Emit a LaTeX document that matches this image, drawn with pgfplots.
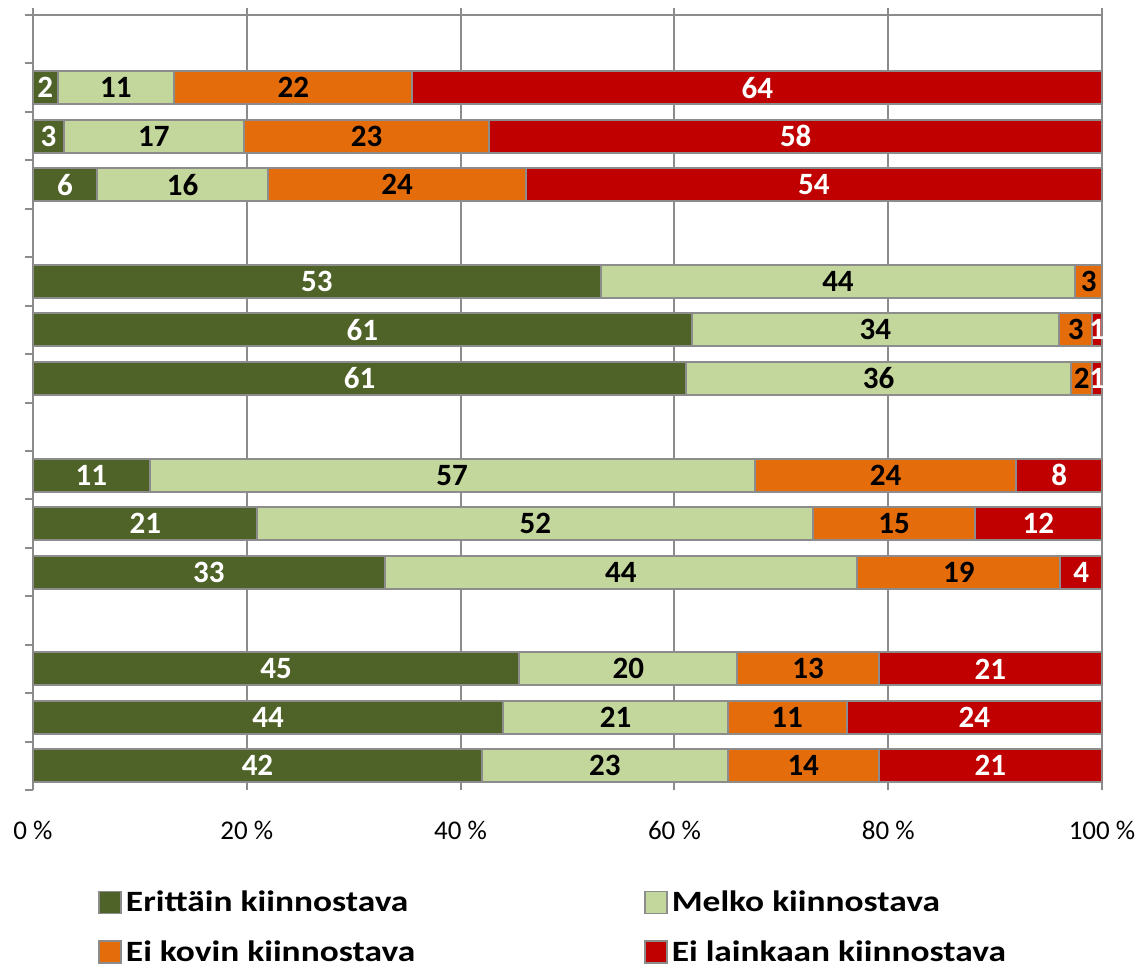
\documentclass[border=0pt]{standalone}
\usepackage{pgfplots}
\pgfplotsset{compat=1.18}
\usepackage{pgfplotstable}
\usepackage{fontspec}
\setmainfont{Carlito}
\newfontfamily\legfont{Carlito Bold}[FakeStretch=1.2]
\newfontfamily\boldc{Carlito Bold}
\definecolor{dg}{HTML}{4F6228}
\definecolor{lg}{HTML}{C3D69B}
\definecolor{og}{HTML}{E46C0A}
\definecolor{rd}{HTML}{C00000}
\definecolor{bd}{HTML}{8C8C8C}
\pgfplotstableread{
y a b c d la lb lc ld
2 2.3 10.9 22.3 64.5 2 11 22 64
3 2.9 16.8 23.0 57.3 3 17 23 58
4 6.0 16.0 24.1 53.9 6 16 24 54
6 53.1 44.4 2.5 0 53 44 3 0
7 61.6 34.4 3.1 0.9 61 34 3 1
8 61.1 36.0 2.0 0.9 61 36 2 1
10 10.9 56.6 24.5 8.0 11 57 24 8
11 21.0 52.0 15.1 11.9 21 52 15 12
12 32.9 44.2 19.0 3.9 33 44 19 4
14 45.5 20.4 13.2 20.9 45 20 13 21
15 44.0 21.0 11.1 23.9 44 21 11 24
16 42.0 23.0 14.1 20.9 42 23 14 21
}\data
\begin{document}
\begin{tikzpicture}
\begin{axis}[
  scale only axis, width=534.5pt, height=391pt,
  xbar stacked, bar width=0.68, y dir=reverse,
  xmin=0, xmax=100, ymin=0.355, ymax=16.5,
  axis line style={draw=none},
  ytick={0.5,1.5,...,16.5}, yticklabels={},
  ytick pos=left, tick align=outside, major tick length=4pt,
  y tick style={bd, line width=1pt},
  xtick={0,20,40,60,80,100},
  xticklabels={0 \%,20 \%,40 \%,60 \%,80 \%,100 \%},
  x tick style={draw=none},
  x tick label style={font=\fontsize{13.5}{15}\selectfont, yshift=-8pt},
  xmajorgrids, grid style={bd, line width=1pt},
  point meta=explicit,
  /pgf/number format/assume math mode=true,
  nodes near coords={\pgfmathfloatifflags{\pgfplotspointmeta}{0}{}{\pgfmathprintnumber{\pgfplotspointmeta}}},
  legend columns=2,
  legend cell align=left,
  legend image code/.code={\draw[#1, line width=0.9pt] (0pt,-5.5pt) rectangle (11pt,5.5pt);},
  legend style={draw=none, fill=none, at={(0.055,-0.118)}, anchor=north west,
    font=\fontsize{14.75}{16}\legfont, row sep=9pt},
]
\addplot[fill=dg, draw=bd, line width=1pt,
  every node near coord/.style={font=\fontsize{15.5}{16}\boldc, text=white, anchor=center}]
  table[x=a, y=y, meta=la] {\data};
\addlegendentry{\makebox[257pt][l]{Erittäin kiinnostava}}
\addplot[fill=lg, draw=bd, line width=1pt,
  every node near coord/.style={font=\fontsize{15.5}{16}\boldc, text=black, anchor=center}]
  table[x=b, y=y, meta=lb] {\data};
\addlegendentry{Melko kiinnostava}
\addplot[fill=og, draw=bd, line width=1pt,
  every node near coord/.style={font=\fontsize{15.5}{16}\boldc, text=black, anchor=center}]
  table[x=c, y=y, meta=lc] {\data};
\addlegendentry{\makebox[257pt][l]{Ei kovin kiinnostava}}
\addplot[fill=rd, draw=bd, line width=1pt,
  every node near coord/.style={font=\fontsize{15.5}{16}\boldc, text=white, anchor=center}]
  table[x=d, y=y, meta=ld] {\data};
\addlegendentry{Ei lainkaan kiinnostava}
\draw[bd, line width=1pt] (axis cs:0,0.355) -- (axis cs:0,16.5);
\draw[bd, line width=1pt] (axis cs:0,0.5) -- (axis cs:100,0.5);
\coordinate (BL) at (axis cs:0,16.5);
\coordinate (TR) at (axis cs:100,0.355);
\end{axis}
\pgfresetboundingbox
\path[use as bounding box] ([xshift=-16.5pt, yshift=-86.5pt]BL) rectangle ([xshift=18.5pt, yshift=4pt]TR);
\end{tikzpicture}
\end{document}
